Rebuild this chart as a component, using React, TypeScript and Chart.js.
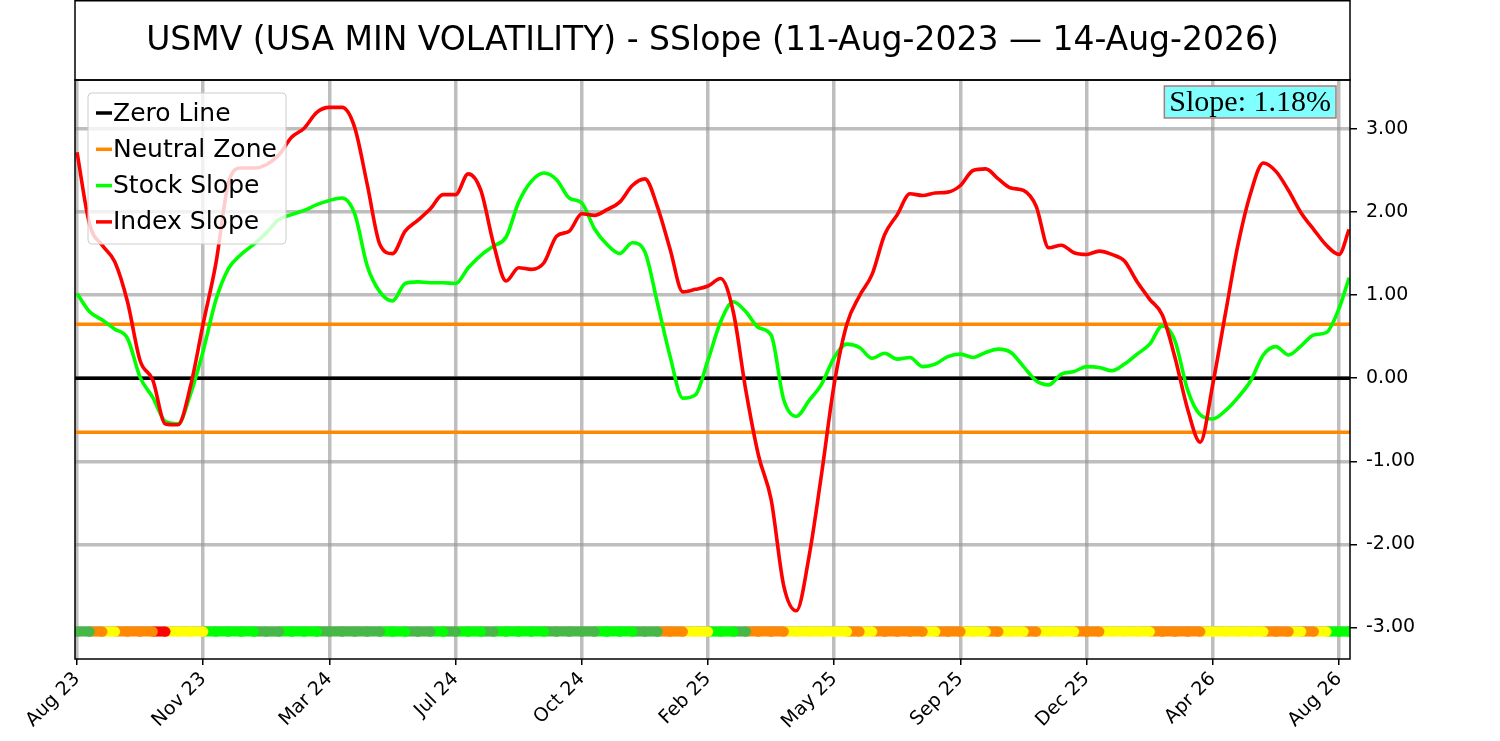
import React, { useEffect, useRef } from 'react';
import { Chart, registerables } from 'chart.js';

Chart.register(...registerables);

// x axis: one unit per date label, samples every 0.1 unit
const tickLabels = ['Aug 23', 'Nov 23', 'Mar 24', 'Jul 24', 'Oct 24', 'Feb 25', 'May 25', 'Sep 25', 'Dec 25', 'Apr 26', 'Aug 26'];
const yTicks = [-3, -2, -1, 0, 1, 2, 3];

const stockSlope = [
  1.02, 0.80, 0.70, 0.59, 0.48, 0.01, -0.23, -0.52, -0.55, -0.19,
  0.33, 0.94, 1.32, 1.49, 1.61, 1.75, 1.91, 1.97, 2.02, 2.09,
  2.14, 2.17, 1.98, 1.35, 1.04, 0.93, 1.14, 1.16, 1.15, 1.15,
  1.14, 1.33, 1.48, 1.59, 1.70, 2.12, 2.37, 2.47, 2.39, 2.17,
  2.11, 1.80, 1.61, 1.50, 1.63, 1.52, 0.90, 0.26, -0.24, -0.20,
  0.22, 0.68, 0.92, 0.80, 0.61, 0.52, -0.26, -0.46, -0.27, -0.07,
  0.25, 0.41, 0.37, 0.24, 0.30, 0.23, 0.25, 0.14, 0.17, 0.26,
  0.29, 0.25, 0.31, 0.35, 0.31, 0.14, -0.03, -0.08, 0.05, 0.08,
  0.14, 0.13, 0.09, 0.17, 0.29, 0.41, 0.63, 0.45, -0.14, -0.44,
  -0.49, -0.39, -0.23, -0.03, 0.28, 0.38, 0.28, 0.39, 0.52, 0.55,
  0.84, 1.21,
];

const indexSlope = [
  2.72, 1.85, 1.60, 1.40, 0.92, 0.21, -0.02, -0.55, -0.56, -0.09,
  0.66, 1.38, 2.35, 2.53, 2.53, 2.57, 2.69, 2.90, 3.01, 3.20,
  3.26, 3.26, 3.02, 2.33, 1.61, 1.50, 1.77, 1.90, 2.04, 2.21,
  2.21, 2.46, 2.26, 1.62, 1.17, 1.33, 1.31, 1.39, 1.71, 1.77,
  1.98, 1.96, 2.03, 2.12, 2.32, 2.40, 2.06, 1.55, 1.04, 1.07,
  1.11, 1.20, 0.80, -0.15, -0.93, -1.46, -2.50, -2.80, -2.15, -1.15,
  -0.07, 0.65, 0.99, 1.25, 1.73, 1.97, 2.22, 2.20, 2.23, 2.24,
  2.32, 2.50, 2.52, 2.40, 2.29, 2.26, 2.07, 1.57, 1.60, 1.51,
  1.49, 1.53, 1.49, 1.41, 1.16, 0.95, 0.76, 0.25, -0.37, -0.77,
  -0.07, 0.78, 1.61, 2.23, 2.59, 2.49, 2.26, 1.99, 1.79, 1.60,
  1.49, 1.79,
];

// D dark green, G green, O orange, Y yellow, R red
const signalCodes = [
  'D', 'D', 'O', 'Y', 'O', 'O', 'O', 'R', 'Y', 'Y',
  'Y', 'G', 'G', 'G', 'G', 'D', 'D', 'G', 'G', 'G',
  'D', 'D', 'D', 'D', 'D', 'G', 'G', 'D', 'D', 'G',
  'D', 'G', 'G', 'D', 'G', 'G', 'G', 'G', 'D', 'D',
  'D', 'D', 'G', 'G', 'G', 'D', 'D', 'O', 'O', 'Y',
  'Y', 'G', 'G', 'D', 'O', 'O', 'O', 'Y', 'Y', 'Y',
  'Y', 'Y', 'O', 'Y', 'O', 'O', 'O', 'O', 'Y', 'O',
  'O', 'Y', 'Y', 'O', 'Y', 'Y', 'O', 'Y', 'Y', 'Y',
  'O', 'O', 'Y', 'Y', 'Y', 'Y', 'O', 'O', 'O', 'O',
  'Y', 'Y', 'Y', 'Y', 'Y', 'O', 'O', 'Y', 'O', 'Y',
  'G', 'G',
];

const neutralZone = 0.65;
const stripLevel = -3.05;
const slopeText = 'Slope: 1.18%';
const titleText = 'USMV (USA MIN VOLATILITY) - SSlope (11-Aug-2023 \u2014 14-Aug-2026)';

const palette: Record<string, string> = {
  D: '#47b847',
  G: '#00ff00',
  O: '#ff8800',
  Y: '#ffff00',
  R: '#ff0000',
};

const X_MIN = -0.016;
const X_MAX = 10.087;
const xAt = (i: number) => Math.min(i / 10, 10.08);
const FONT = '"DejaVu Sans", Verdana, sans-serif';

const legendItems = [
  { label: 'Zero Line', color: '#000000' },
  { label: 'Neutral Zone', color: '#ff8800' },
  { label: 'Stock Slope', color: '#00ff00' },
  { label: 'Index Slope', color: '#ff0000' },
];

const decorPlugin = {
  id: 'decor',
  afterDatasetsDraw(chart: Chart) {
    const { ctx } = chart;
    ctx.save();
    // legend
    const lx = 88, ly = 93, lw = 198, lh = 151;
    ctx.beginPath();
    ctx.roundRect(lx, ly, lw, lh, 4);
    ctx.fillStyle = 'rgba(255,255,255,0.8)';
    ctx.fill();
    ctx.strokeStyle = '#cccccc';
    ctx.lineWidth = 1;
    ctx.stroke();
    ctx.font = `25px ${FONT}`;
    ctx.textBaseline = 'middle';
    ctx.textAlign = 'left';
    legendItems.forEach((item, k) => {
      const y = 113 + k * 36.3;
      ctx.beginPath();
      ctx.moveTo(96, y);
      ctx.lineTo(112, y);
      ctx.strokeStyle = item.color;
      ctx.lineWidth = 3.5;
      ctx.stroke();
      ctx.fillStyle = '#000';
      ctx.fillText(item.label, 113, y + 1);
    });

    // slope box
    ctx.font = '30px "Liberation Serif", "Times New Roman", serif';
    const tw = ctx.measureText(slopeText).width;
    const bx = 1336 - tw - 10, by = 86, bw = tw + 10, bh = 32;
    ctx.beginPath();
    ctx.rect(bx, by, bw, bh);
    ctx.fillStyle = 'rgb(128,255,255)';
    ctx.fill();
    ctx.strokeStyle = '#b07878';
    ctx.lineWidth = 1.5;
    ctx.stroke();
    ctx.fillStyle = '#000';
    ctx.textAlign = 'center';
    ctx.fillText(slopeText, bx + bw / 2, by + bh / 2 + 1);
    ctx.restore();
  },
  afterDraw(chart: Chart) {
    const { ctx, chartArea } = chart;
    ctx.save();
    ctx.strokeStyle = '#000';
    ctx.lineWidth = 1.5;
    ctx.strokeRect(chartArea.left, chartArea.top, chartArea.right - chartArea.left, chartArea.bottom - chartArea.top);
    // title box
    ctx.strokeRect(chartArea.left, 0.75, chartArea.right - chartArea.left, chartArea.top - 0.75);
    ctx.fillStyle = '#000';
    ctx.font = `33px ${FONT}`;
    ctx.textAlign = 'center';
    ctx.textBaseline = 'middle';
    ctx.fillText(titleText, (chartArea.left + chartArea.right) / 2, 41);
    ctx.restore();
  },
};

export default function App() {
  const canvasRef = useRef<HTMLCanvasElement>(null);
  const chartRef = useRef<Chart | null>(null);

  useEffect(() => {
    if (!canvasRef.current) return;
    const ctx = canvasRef.current.getContext('2d');
    if (!ctx) return;

    const flat = (v: number) => [
      { x: X_MIN, y: v },
      { x: X_MAX, y: v },
    ];

    chartRef.current = new Chart(ctx, {
      type: 'line',
      data: {
        datasets: [
          {
            label: 'Signal',
            data: signalCodes.map((_, i) => ({ x: xAt(i), y: stripLevel })),
            borderWidth: 10,
            borderColor: palette.D,
            segment: {
              borderColor: (c: any) => palette[signalCodes[c.p1DataIndex]],
            },
            pointRadius: 5.2,
            pointBorderWidth: 0,
            pointBackgroundColor: signalCodes.map((s) => palette[s]),
            order: 0,
          },
          {
            label: 'Index Slope',
            data: indexSlope.map((v, i) => ({ x: xAt(i), y: v })),
            borderColor: '#ff0000',
            borderWidth: 3.6,
            pointRadius: 0,
            cubicInterpolationMode: 'monotone',
            order: 1,
          },
          {
            label: 'Stock Slope',
            data: stockSlope.map((v, i) => ({ x: xAt(i), y: v })),
            borderColor: '#00ff00',
            borderWidth: 3.6,
            pointRadius: 0,
            cubicInterpolationMode: 'monotone',
            order: 2,
          },
          {
            label: 'Neutral Zone',
            data: flat(neutralZone),
            borderColor: '#ff8800',
            borderWidth: 3.5,
            pointRadius: 0,
            order: 3,
          },
          {
            label: 'Neutral Zone Low',
            data: flat(-neutralZone),
            borderColor: '#ff8800',
            borderWidth: 3.5,
            pointRadius: 0,
            order: 3,
          },
          {
            label: 'Zero Line',
            data: flat(0),
            borderColor: '#000000',
            borderWidth: 3.5,
            pointRadius: 0,
            order: 4,
          },
        ],
      },
      options: {
        responsive: false,
        animation: false,
        devicePixelRatio: 1,
        layout: { padding: { left: 75, top: 80, right: 0, bottom: 0 } },
        plugins: {
          legend: { display: false },
          tooltip: { enabled: false },
          title: { display: false },
        },
        scales: {
          x: {
            type: 'linear',
            min: X_MIN,
            max: X_MAX,
            afterBuildTicks: (scale: any) => {
              scale.ticks = tickLabels.map((_, k) => ({ value: k }));
            },
            afterFit: (scale: any) => {
              scale.height = 82;
            },
            grid: {
              color: 'rgba(150,150,150,0.62)',
              lineWidth: 3.5,
              tickColor: '#000',
              tickLength: 6,
              tickWidth: 1.5,
            },
            border: { display: false },
            ticks: {
              autoSkip: false,
              minRotation: 45,
              maxRotation: 45,
              padding: 3,
              color: '#000',
              font: { family: FONT, size: 19 },
              callback: (v: any) => tickLabels[Math.round(Number(v))] ?? '',
            },
          },
          y: {
            type: 'linear',
            position: 'right',
            min: -3.38,
            max: 3.59,
            afterBuildTicks: (scale: any) => {
              scale.ticks = yTicks.map((v) => ({ value: v }));
            },
            afterFit: (scale: any) => {
              scale.width = 150;
            },
            grid: {
              color: 'rgba(150,150,150,0.62)',
              lineWidth: 3.5,
              tickColor: '#000',
              tickLength: 7,
              tickWidth: 1.5,
            },
            border: { display: false },
            ticks: {
              padding: 9,
              color: '#000',
              font: { family: FONT, size: 19 },
              callback: (v: any) => Number(v).toFixed(2),
            },
          },
        },
      },
      plugins: [decorPlugin],
    });

    return () => {
      chartRef.current?.destroy();
    };
  }, []);

  return (
    <div style={{ position: 'fixed', left: 0, top: 0, width: 1500, height: 741, background: '#fff' }}>
      <canvas ref={canvasRef} width={1500} height={741} style={{ width: 1500, height: 741 }} />
    </div>
  );
}
